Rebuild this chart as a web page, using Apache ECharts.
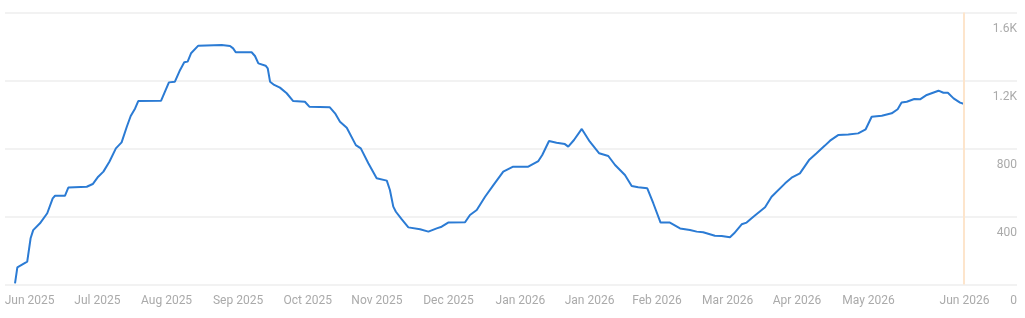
<!DOCTYPE html>
<html>
<head>
<meta charset="utf-8">
<script src="https://cdn.jsdelivr.net/npm/echarts@6/dist/echarts.min.js"></script>
<style>
  html, body { margin: 0; padding: 0; background: #fff; }
  #chart { width: 1025px; height: 318px; }
</style>
</head>
<body>
<div id="chart"></div>
<script>
// days since start of the range, and the value on that day
var days = [0, 0.9, 4.7, 5.2, 6.0, 7.0, 9.6, 12.4, 14.5, 15.4, 19.2, 20.5, 27.6, 29.9, 32.0, 34.0, 36.3, 38.8, 41.0, 43.0,
  44.5, 46.2, 47.4, 56.2, 59.2, 61.5, 63.5, 65.1, 66.4, 67.7, 70.5, 79.5, 82.7, 83.9, 84.9, 91.0, 92.3, 93.6, 96.4, 97.2,
  98.1, 99.7, 101.9, 104.5, 107.0, 111.5, 113.2, 121.1, 123.1, 125.0, 127.6, 131.1, 133.0, 135.9, 139.1, 143.0, 144.2, 145.5, 146.5, 148.7,
  151.3, 155.8, 159.0, 162.2, 164.1, 166.6, 173.1, 175.0, 177.6, 180.8, 184.0, 187.8, 191.6, 197.4, 201.3, 202.8, 205.4, 208.3, 211.5, 212.8,
  215.0, 218.0, 221.1, 224.7, 228.2, 230.8, 234.6, 237.2, 239.7, 243.2, 245.5, 248.3, 251.9, 255.8, 259.6, 262.2, 264.7, 269.2, 271.8, 275.0,
  276.6, 279.5, 281.4, 284.0, 288.5, 291.0, 296.2, 298.7, 301.9, 305.4, 308.3, 311.5, 313.5, 316.6, 320.5, 324.3, 327.2, 329.5, 333.4, 337.2,
  339.5, 341.0, 343.0, 345.9, 348.1, 350.7, 355.2, 357.1, 358.8, 361.0, 363.5, 365.1];
var visits = [7, 101, 134, 144, 272, 320, 360, 419, 507, 522, 522, 570, 575, 591, 634, 664, 722, 801, 836, 928,
  991, 1036, 1079, 1081, 1189, 1193, 1262, 1307, 1311, 1360, 1405, 1409, 1403, 1389, 1366, 1366, 1344, 1301, 1287, 1272,
  1193, 1174, 1158, 1125, 1079, 1075, 1046, 1042, 1007, 958, 922, 820, 801, 713, 625, 611, 556, 458, 428, 384,
  336, 325, 311, 330, 340, 364, 366, 409, 438, 516, 585, 664, 693, 693, 726, 762, 844, 834, 826, 811,
  850, 915, 840, 772, 756, 703, 644, 579, 572, 566, 478, 364, 364, 330, 321, 311, 307, 287, 285, 278,
  301, 354, 364, 399, 454, 516, 595, 628, 654, 732, 772, 817, 846, 879, 883, 889, 913, 987, 993, 1007,
  1031, 1070, 1075, 1091, 1089, 1115, 1140, 1128, 1128, 1095, 1070, 1062];

// x tick labels and where they sit (in days)
var tickDays = [5.6, 31.7, 58.3, 85.8, 112.6, 139.2, 166.7, 194.4, 221.0, 246.9, 274.1, 300.8, 328.3, 365.2];
var tickLabels = ['Jun 2025', 'Jul 2025', 'Aug 2025', 'Sep 2025', 'Oct 2025', 'Nov 2025', 'Dec 2025',
  'Jan 2026', 'Jan 2026', 'Feb 2026', 'Mar 2026', 'Apr 2026', 'May 2026', 'Jun 2026'];

var chart = echarts.init(document.getElementById('chart'));

var points = [];
for (var i = 0; i < days.length; i++) {
  points.push([days[i], visits[i]]);
}

var option = {
  animation: false,
  grid: { left: 5, right: 8, top: 12.5, bottom: 33.5, containLabel: false },
  xAxis: {
    type: 'value',
    min: -3.85,
    max: 385.4,
    axisLine: { show: false },
    axisTick: { show: false },
    splitLine: { show: false },
    axisLabel: {
      customValues: tickDays,
      color: '#aaaaaa',
      fontSize: 12,
      fontFamily: 'Roboto',
      margin: 10,
      formatter: function (v) {
        var k = tickDays.indexOf(v);
        return k >= 0 ? tickLabels[k] : '';
      }
    }
  },
  yAxis: {
    type: 'value',
    position: 'right',
    min: 0,
    max: 1600,
    interval: 400,
    axisLine: { show: false },
    axisTick: { show: false },
    splitLine: { lineStyle: { color: '#f2f2f2', width: 2 } },
    axisLabel: {
      inside: true,
      margin: 0,
      color: '#aaaaaa',
      fontSize: 12,
      fontFamily: 'Roboto',
      align: 'right',
      verticalAlign: 'top',
      padding: [10, 0, 0, 0],
      formatter: function (v) {
        return v >= 1000 ? (v / 1000) + 'K' : String(v);
      }
    }
  },
  series: [{
    type: 'line',
    data: points,
    showSymbol: false,
    lineStyle: { color: '#2b7bd4', width: 2 },
    markLine: {
      silent: true,
      symbol: 'none',
      label: { show: false },
      lineStyle: { color: '#fde5cc', width: 2, type: 'solid' },
      data: [{ xAxis: days[days.length - 1] }]
    }
  }]
};

chart.setOption(option);
</script>
</body>
</html>
